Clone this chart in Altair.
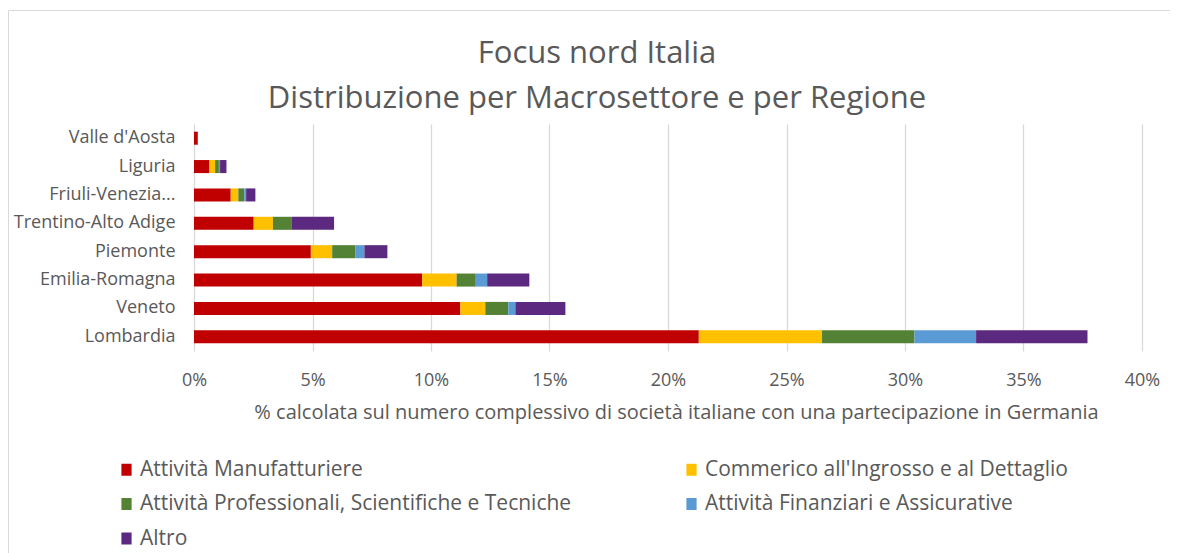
import altair as alt
import pandas as pd

regions = ["Valle d'Aosta", "Liguria", "Friuli-Venezia Giulia", "Trentino-Alto Adige",
           "Piemonte", "Emilia-Romagna", "Veneto", "Lombardia"]
sectors = ["Attività Manufatturiere", "Commerico all'Ingrosso e al Dettaglio",
           "Attività Professionali, Scientifiche e Tecniche", "Attività Finanziari e Assicurative",
           "Altro"]
colors = ["#C00000", "#FFC000", "#548235", "#5B9BD5", "#5B2A80"]

# values in % of total Italian companies with a participation in Germany
manifatturiere = [0.16, 0.65, 1.55, 2.52, 4.93, 9.63, 11.24, 21.30]
commercio      = [0.00, 0.24, 0.32, 0.81, 0.90, 1.45, 1.05, 5.20]
professionali  = [0.00, 0.16, 0.25, 0.80, 0.97, 0.81, 0.97, 3.90]
finanziari     = [0.00, 0.05, 0.08, 0.00, 0.39, 0.48, 0.30, 2.60]
altro          = [0.00, 0.27, 0.39, 1.78, 0.97, 1.78, 2.11, 4.70]

series = [manifatturiere, commercio, professionali, finanziari, altro]
rows = []
for si, (name, vals) in enumerate(zip(sectors, series)):
    for r, v in zip(regions, vals):
        rows.append({"Regione": r, "Settore": name, "ordine": si, "valore": v / 100})
df = pd.DataFrame(rows)

# legend is filled column by column: put entries so rows read as in the reference
legend_order = [0, 2, 4, 1, 3]
leg_domain = [sectors[i] for i in legend_order]
leg_range = [colors[i] for i in legend_order]

FONT = "Open Sans"
GREY = "#595959"

bars = alt.Chart(df).mark_bar().encode(
    y=alt.Y("Regione:N", sort=regions,
            scale=alt.Scale(paddingInner=0.54, paddingOuter=0.27),
            axis=alt.Axis(title=None, ticks=False, domain=False, labelFontSize=18,
                          labelColor=GREY, labelFont=FONT, labelPadding=19, labelLimit=220,
                          labelExpr="datum.label == 'Friuli-Venezia Giulia' ? 'Friuli-Venezia...' : datum.label")),
    x=alt.X("valore:Q", stack="zero",
            scale=alt.Scale(domain=[0, 0.4], nice=False),
            axis=alt.Axis(format=".0%", values=[0, 0.05, 0.1, 0.15, 0.2, 0.25, 0.3, 0.35, 0.4],
                          title="% calcolata sul numero complessivo di società italiane con una partecipazione in Germania",
                          titleFontSize=20, titleFont=FONT, titleColor=GREY, titleFontWeight="normal",
                          titlePadding=13, titleX=482, titleAnchor="middle",
                          labelFontSize=18, labelFont=FONT, labelColor=GREY, labelPadding=20,
                          labelFlush=False,
                          ticks=False, domain=False, grid=True, gridColor="#D9D9D9", gridWidth=1.3)),
    color=alt.Color("Settore:N",
                    scale=alt.Scale(domain=leg_domain, range=leg_range),
                    legend=alt.Legend(title=None, orient="none", legendX=-78, legendY=335,
                                      columns=2, columnPadding=109, rowPadding=12.5,
                                      labelFontSize=21, labelFont=FONT, labelColor=GREY,
                                      symbolType="M-0.85,-1H0.85V1H-0.85Z", symbolSize=144,
                                      symbolStrokeWidth=0, labelOffset=3, labelLimit=700)),
    order=alt.Order("ordine:Q", sort="ascending"),
)

frame = alt.Chart(pd.DataFrame({"a": [0]})).mark_rect(
    fill="transparent", stroke="#D9D9D9", strokeWidth=1
).encode(x=alt.value(-185.5), x2=alt.value(976.5), y=alt.value(-113.5), y2=alt.value(440))

chart = alt.layer(frame, bars).properties(
    width=948, height=227,
    padding={"left": 186, "top": 116, "right": 28, "bottom": 202},
    autosize=alt.AutoSizeParams(type="none"),
    title=alt.TitleParams(["Focus nord Italia", "Distribuzione per Macrosettore e per Regione"],
                          font=FONT, fontSize=31, fontWeight="normal", color=GREY,
                          anchor="middle", dx=-71, dy=119, offset=14, lineHeight=45),
).configure_view(stroke=None)

chart.save("out.html", embed_options={"renderer": "svg", "actions": False})
